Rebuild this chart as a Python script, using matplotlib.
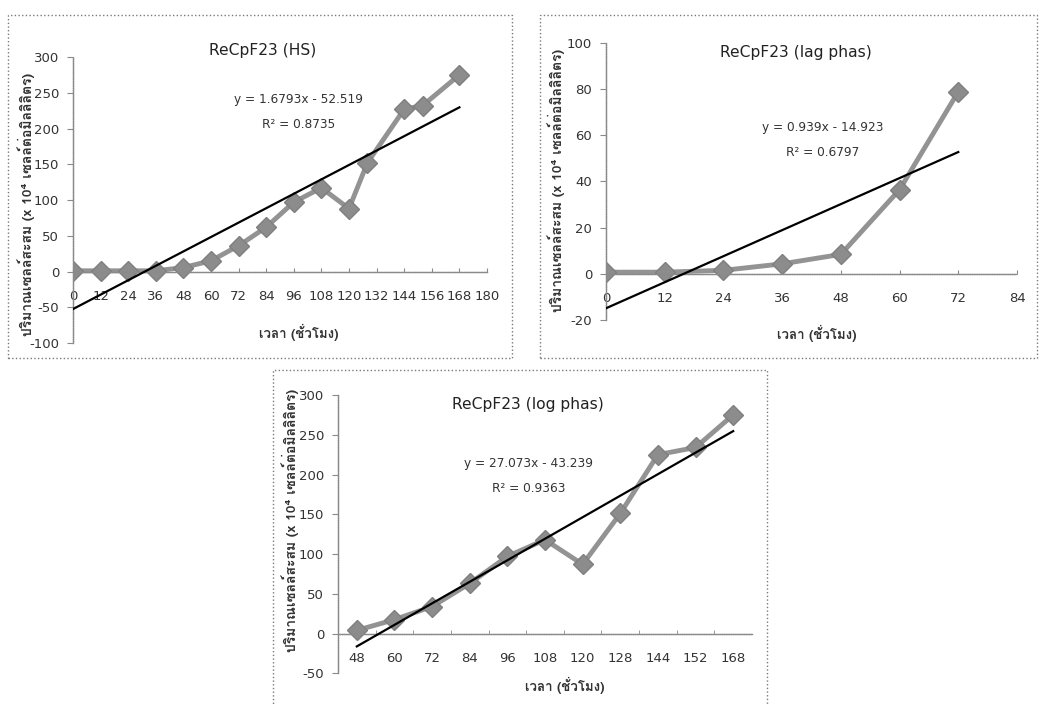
import matplotlib
matplotlib.use("Agg")
from matplotlib import pyplot as plt
from matplotlib.patches import Rectangle
import numpy as np

# ---- data ----
hs_hours = [0, 12, 24, 36, 48, 60, 72, 84, 96, 108, 120, 128, 144, 152, 168]
hs_cells = [1, 1, 1, 1, 5.5, 15, 36, 62, 97, 117, 88, 152, 227, 232, 275]
hs_fit = (1.6793, -52.519)
hs_r2 = 0.8735

lag_hours = [0, 12, 24, 36, 48, 60, 72]
lag_cells = [0.7, 0.7, 1.5, 4.3, 8.4, 36.4, 78.8]
lag_fit = (0.939, -14.923)
lag_r2 = 0.6797

log_labels = ["48", "60", "72", "84", "96", "108", "120", "128", "144", "152", "168"]
log_cells = [4, 17.5, 34, 63, 97, 118, 87, 151, 225, 234, 275]
log_fit = (27.073, -43.239)
log_r2 = 0.9363

W, H = 1041, 706
THAI = ["Loma", "Noto Sans Thai", "DejaVu Sans"]
SERIES = "#939393"
AXIS = "#8a8a8a"
TXT = "#333333"

plt.rcParams["font.family"] = ["DejaVu Sans"]
plt.rcParams["axes.unicode_minus"] = False
fig = plt.figure(figsize=(W / 100, H / 100), dpi=100)


def px(x0, y0, x1, y1):
    # pixel box (top-left origin) -> figure fraction [l, b, w, h]
    return [x0 / W, 1 - y1 / H, (x1 - x0) / W, (y1 - y0) / H]


def frame(x0, y0, x1, y1):
    fig.add_artist(Rectangle((x0 / W, 1 - y1 / H), (x1 - x0) / W, (y1 - y0) / H,
                             transform=fig.transFigure, fill=False,
                             ec="#7a7a7a", lw=1.0, ls=":"))


def style_axes(ax):
    for s in ("top", "right"):
        ax.spines[s].set_visible(False)
    ax.spines["bottom"].set_position(("data", 0))
    for s in ("left", "bottom"):
        ax.spines[s].set_color(AXIS)
        ax.spines[s].set_linewidth(1.0)
        ax.spines[s].set_linestyle((0, (1, 0.6)))
    ax.tick_params(axis="y", direction="out", length=4, color=AXIS,
                   labelsize=9.5, labelcolor=TXT, pad=6)
    ax.tick_params(axis="x", direction="in", length=3, color=AXIS,
                   labelsize=9.5, labelcolor=TXT, pad=13)
    ax.patch.set_alpha(0)


def texts(title, fit, r2, tpos, epos, xlpos, ylpos):
    fig.text(tpos[0] / W, 1 - tpos[1] / H, title, fontsize=11.2, color="#222222",
             ha="center", va="center")
    eq = "y = %gx - %g" % (fit[0], -fit[1])
    fig.text(epos[0] / W, 1 - epos[1] / H, eq, fontsize=8.7, color=TXT,
             ha="center", va="center")
    fig.text(epos[0] / W, 1 - (epos[1] + 24) / H, "R² = %g" % r2, fontsize=8.7,
             color=TXT, ha="center", va="center")
    fig.text(xlpos[0] / W, 1 - xlpos[1] / H, "เวลา (ชั่วโมง)", family=THAI,
             fontsize=9.5, fontweight="bold", color=TXT, ha="center", va="center")
    fig.text(ylpos[0] / W, 1 - ylpos[1] / H,
             "ปริมาณเซลล์สะสม (x 10⁴ เซลล์ต่อมิลลิลิตร)", family=THAI,
             fontsize=10, fontweight="bold", color=TXT, rotation=90,
             ha="center", va="center")


def series(ax, x, y):
    ax.plot(x, y, color=SERIES, lw=3.5, marker="D", markersize=10.5,
            markerfacecolor="#8c8c8c", markeredgecolor="#7f7f7f", zorder=2)


# ---- chart 1: whole curve ----
frame(8, 15, 512, 358)
ax1 = fig.add_axes(px(73, 57, 487, 343))
series(ax1, hs_hours, hs_cells)
xs = np.array([hs_hours[0], hs_hours[-1]])
ax1.plot(xs, hs_fit[0] * xs + hs_fit[1], color="black", lw=1.6, zorder=3)
ax1.set_xlim(0, 180)
ax1.set_ylim(-100, 300)
ax1.set_xticks(range(0, 181, 12))
ax1.set_yticks(range(-100, 301, 50))
style_axes(ax1)
texts("ReCpF23 (HS)", hs_fit, hs_r2, (263, 50), (299, 100), (299, 332), (26, 204))

# ---- chart 2: lag phase ----
frame(540, 15, 1037, 358)
ax2 = fig.add_axes(px(606, 42.7, 1017, 320))
series(ax2, lag_hours, lag_cells)
xs = np.array([lag_hours[0], lag_hours[-1]])
ax2.plot(xs, lag_fit[0] * xs + lag_fit[1], color="black", lw=1.6, zorder=3)
ax2.set_xlim(0, 84)
ax2.set_ylim(-20, 100)
ax2.set_xticks(range(0, 85, 12))
ax2.set_yticks(range(-20, 101, 20))
style_axes(ax2)
texts("ReCpF23 (lag phas)", lag_fit, lag_r2, (796, 52), (823, 128), (817, 333), (556, 180))

# ---- chart 3: log phase (category axis) ----
frame(273, 370, 767, 720)
ax3 = fig.add_axes(px(338, 395, 752, 673.3))
pos = np.arange(1, len(log_labels) + 1)
series(ax3, pos, log_cells)
xs = np.array([pos[0], pos[-1]])
ax3.plot(xs, log_fit[0] * xs + log_fit[1], color="black", lw=1.6, zorder=3)
ax3.set_xlim(0.5, len(log_labels) + 0.5)
ax3.set_ylim(-50, 300)
ax3.set_xticks(pos)
ax3.set_xticklabels(log_labels)
ax3.set_yticks(range(-50, 301, 50))
style_axes(ax3)
ax3.set_xticks(np.arange(1.5, len(log_labels), 1), minor=True)
ax3.tick_params(axis="x", which="major", length=0)
ax3.tick_params(axis="x", which="minor", direction="in", length=3, color=AXIS)
texts("ReCpF23 (log phas)", log_fit, log_r2, (528, 404), (529, 464), (565, 685), (290, 520))

fig.savefig("out.png", dpi=100)
